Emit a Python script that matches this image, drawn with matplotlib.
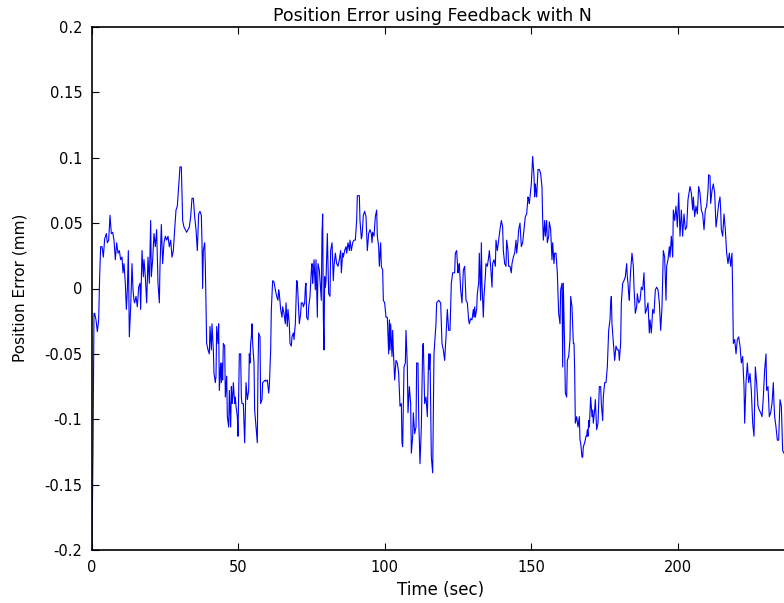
import matplotlib
matplotlib.use("Agg")
import matplotlib.pyplot as plt

plt.rcParams['font.family'] = ['DejaVu Sans']
plt.rcParams['axes.unicode_minus'] = False

# time (sec)
time_sec = [
    0.0, 0.34, 0.68, 0.91, 1.37, 1.82, 2.28, 2.62, 2.96, 3.42, 3.87, 4.33, 4.90, 5.24, 5.69, 6.15,
    6.60, 7.06, 7.51, 7.97, 8.42, 8.88, 9.34, 9.79, 10.25, 10.59, 10.93, 11.38, 11.73, 12.07, 12.41,
    12.75, 13.21, 13.66, 14.00, 14.34, 14.57, 15.03, 15.48, 15.94, 16.39, 16.62, 17.08, 17.53, 17.76,
    18.21, 18.67, 19.13, 19.58, 20.04, 20.26, 20.72, 21.17, 21.63, 22.08, 22.54, 23.00, 23.22, 23.68,
    24.13, 24.59, 25.04, 25.50, 25.96, 26.41, 26.87, 27.32, 27.78, 28.23, 28.69, 29.14, 29.60, 30.05,
    30.51, 30.96, 31.42, 31.88, 32.33, 32.79, 33.24, 33.70, 34.15, 34.61, 35.06, 35.52, 35.97, 36.43,
    36.88, 37.34, 37.57, 37.79, 38.02, 38.48, 38.71, 39.16,
    39.62, 40.07, 40.30, 40.76, 40.98, 41.44, 41.67, 42.12, 42.35, 42.58, 43.03, 43.26, 43.49, 43.94,
    44.17, 44.40, 44.63, 44.85, 45.31, 45.54, 45.99, 46.22, 46.68, 46.90, 47.36, 47.59, 47.81, 48.04,
    48.27, 48.72, 48.95, 49.18, 49.64, 49.86, 50.32, 50.77, 51.00, 51.23, 51.68, 52.14, 52.60, 53.05,
    53.51, 53.73, 53.96, 54.19, 54.42, 54.64, 54.87, 55.33, 55.55, 56.01, 56.46, 56.69, 56.92, 57.38,
    57.60, 58.06, 58.29, 58.74, 59.20, 59.42, 59.88, 60.34, 60.56, 61.02, 61.25, 61.47, 61.70, 62.16,
    62.61, 63.07, 63.52, 63.75, 63.98, 64.43, 64.89, 65.12, 65.57, 66.03, 66.26, 66.71, 66.94, 67.39,
    67.62, 68.08, 68.30, 68.76, 68.99, 69.44, 69.90, 70.13, 70.58, 70.81, 71.26, 71.49, 71.95, 72.18,
    72.63, 72.86, 73.09, 73.31, 73.77, 74.00, 74.45, 74.91, 75.14, 75.36, 75.59, 75.82, 76.27, 76.50,
    76.96, 77.18, 77.64,
    77.87, 78.32, 78.55, 78.78, 79.01, 79.24, 79.46, 79.69, 79.92, 80.37, 80.83, 81.28, 81.51, 81.97,
    82.42, 82.65, 83.11, 83.56, 84.02, 84.47, 84.93, 85.16, 85.61, 85.84, 86.29, 86.75, 86.98, 87.43,
    87.89, 88.11, 88.57, 89.03, 89.48, 89.94, 90.39, 90.62, 91.30, 91.53, 91.99, 92.21, 92.67, 93.12,
    93.58, 94.03, 94.49, 94.94, 95.40, 95.63, 95.86, 96.31, 96.77, 97.22, 97.45, 97.91, 98.13, 98.59,
    98.82, 99.27, 99.50, 99.95, 100.41, 100.86, 101.32, 101.55, 101.78, 102.00, 102.46, 102.69, 102.91,
    103.37, 103.82, 104.28, 104.74, 105.19, 105.65, 105.87, 106.10, 106.56, 107.01, 107.24, 107.70,
    107.92, 108.38, 108.83, 109.06, 109.52, 109.74, 110.20, 110.66, 110.88, 111.34, 111.57, 112.02,
    112.48, 112.93, 113.16, 113.61, 114.07, 114.53, 114.98, 115.21,
    115.44, 115.89, 116.35, 116.57, 116.80, 117.03, 117.48, 117.71, 118.40, 119.08, 119.53, 119.99,
    120.44, 120.90, 121.35, 121.81, 122.27, 122.72, 123.18, 123.86, 124.09, 124.54, 125.00, 125.23,
    125.45, 125.91, 126.36, 126.82, 127.27, 127.73, 128.19, 128.64, 128.87, 129.32, 129.78, 130.23,
    130.46, 130.69, 130.92, 131.37, 131.60, 132.06, 132.28, 132.74, 132.97, 133.19, 133.65, 133.88,
    134.33, 134.56, 135.02, 135.47, 135.70, 136.15, 136.61, 136.84, 137.29, 137.75, 137.98, 138.43,
    138.89, 139.34, 139.80, 140.25, 140.48, 140.94, 141.39, 141.62, 142.07, 142.30, 142.76, 143.21,
    143.44, 143.90, 144.35, 144.81, 145.03, 145.49, 145.72, 146.17, 146.63, 147.08, 147.54, 147.99,
    148.45, 148.90, 149.13, 149.36, 149.59, 150.04, 150.50, 150.95, 151.18, 151.41, 151.86, 152.32,
    152.77,
    153.23, 153.69, 153.92, 154.14, 154.60, 154.83, 155.28, 155.51, 155.97, 156.19, 156.65, 157.10,
    157.33, 157.79, 158.01, 158.47, 158.92, 159.38, 159.84, 160.06, 160.52, 160.75, 160.97, 161.43,
    161.66, 162.11, 162.34, 162.80, 163.25, 163.48, 163.93, 164.39, 164.62, 164.84, 165.07, 165.53,
    165.98, 166.44, 166.67, 166.89, 167.35, 167.58, 167.80, 168.26, 168.72, 168.94, 169.17, 169.40,
    169.63, 169.85, 170.31, 170.76, 170.99, 171.22, 171.67, 171.90, 172.36, 172.81, 173.27, 173.72,
    173.95, 174.41, 174.63, 175.09, 175.55, 176.00, 176.46, 176.91, 177.14, 177.37, 177.59, 177.82,
    178.28, 178.51, 178.96, 179.42, 179.87, 180.10, 180.55, 180.78, 181.24, 181.69, 182.15, 182.60,
    182.83, 183.06, 183.29, 183.51, 183.74, 183.97, 184.42, 184.88, 185.11, 185.56, 186.02, 186.25,
    186.70, 187.16, 187.61, 188.07, 188.52, 188.98, 189.43, 189.89, 190.34,
    190.58, 191.03, 191.49, 191.94, 192.40, 192.85, 193.31, 193.76, 194.22, 194.67, 195.13, 195.58,
    196.04, 196.27, 196.72, 197.18, 197.41, 197.86, 198.32, 198.54, 199.00, 199.45, 199.91, 200.37,
    200.82, 201.28, 201.73, 202.19, 202.64, 203.10, 203.55, 204.24, 204.69, 205.15, 205.37, 205.83,
    206.28, 206.74, 207.20, 207.65, 208.11, 208.56, 209.02, 209.47, 209.93, 210.38, 210.61, 211.07,
    211.29, 211.75, 212.20, 212.66, 213.12, 213.57, 214.03, 214.48, 214.71, 214.94, 215.39, 215.85,
    216.30, 216.76, 217.21, 217.67, 218.12, 218.58, 218.81, 219.04, 219.49, 219.95, 220.40, 220.86,
    221.31, 221.77, 222.22, 222.68, 222.91, 223.36, 223.82, 224.27, 224.73, 225.18, 225.64, 226.09,
    226.55, 227.00, 227.46, 227.91, 228.37, 228.83, 229.28, 229.74, 230.19, 230.42, 230.88, 231.33,
    231.79, 232.24, 232.70, 232.92, 233.15, 233.61, 234.06, 234.52, 234.97, 235.43, 235.88, 236.34,
    237.0, 238.0,
]

# position error (mm)
pos_error = [
    -0.200, -0.124, -0.019, -0.019, -0.024, -0.033, -0.024, 0.010, 0.032, 0.032, 0.024, 0.038, 0.042,
    0.035, 0.037, 0.056, 0.042, 0.043, 0.037, 0.022, 0.035, 0.027, 0.029, 0.022, 0.024, 0.012, 0.019,
    0.004, -0.016, -0.001, 0.029, -0.037, -0.014, 0.019, -0.001, -0.009, -0.011, -0.006, -0.014, 0.001,
    0.004, -0.016, 0.029, 0.009, 0.022, 0.009, -0.011, 0.024, 0.004, 0.052, 0.009, 0.022, 0.042, 0.032,
    0.045, 0.004, -0.011, 0.017, 0.049, 0.019, 0.035, 0.040, 0.037, 0.040, 0.032, 0.037, 0.024, 0.029,
    0.045, 0.060, 0.063, 0.078, 0.093, 0.093, 0.052, 0.047, 0.045, 0.043, 0.045, 0.047, 0.055, 0.069,
    0.069, 0.055, 0.045, 0.029, 0.057, 0.059, 0.056, 0.035, 0.000, 0.029, 0.035, 0.017, -0.042,
    -0.047, -0.050, -0.029, -0.047, -0.027, -0.047, -0.065, -0.072, -0.067, -0.029, -0.042, -0.027,
    -0.078, -0.057, -0.072, -0.057, -0.070, -0.042, -0.044, -0.083, -0.067, -0.098, -0.106, -0.078,
    -0.106, -0.075, -0.088, -0.083, -0.072, -0.088, -0.083, -0.090, -0.098, -0.113, -0.050, -0.050,
    -0.083, -0.088, -0.088, -0.118, -0.072, -0.085, -0.078, -0.050, -0.057, -0.042, -0.037, -0.027,
    -0.042, -0.057, -0.093, -0.106, -0.118, -0.062, -0.034, -0.037, -0.088, -0.085, -0.072, -0.071,
    -0.070, -0.071, -0.070, -0.080, -0.075, -0.047, -0.016, -0.006, 0.006, 0.005, -0.001, -0.006,
    -0.009, -0.001, -0.004, -0.016, -0.022, -0.014, -0.019, -0.027, -0.011, -0.029, -0.016, -0.027,
    -0.042, -0.044, -0.037, -0.034, -0.039, -0.027, 0.006, 0.005, -0.016, -0.027, -0.019, -0.011,
    -0.011, -0.014, -0.011, 0.001, 0.004, -0.022, -0.024, -0.014, -0.006, 0.014, 0.019, 0.004, 0.012,
    0.022, -0.001, 0.022, -0.022, 0.019, 0.014,
    0.006, -0.009, 0.042, 0.057, -0.022, -0.047, 0.009, 0.001, 0.006, 0.042, -0.004, -0.006, 0.029,
    0.035, 0.006, 0.017, 0.027, 0.019, 0.017, 0.022, 0.029, 0.012, 0.027, 0.024, 0.029, 0.032, 0.027,
    0.035, 0.029, 0.037, 0.029, 0.035, 0.037, 0.037, 0.052, 0.071, 0.071, 0.052, 0.038, 0.040, 0.056,
    0.059, 0.055, 0.029, 0.042, 0.045, 0.042, 0.035, 0.043, 0.040, 0.055, 0.060, 0.040, 0.032, 0.017,
    0.035, 0.017, 0.014, -0.009, -0.011, -0.022, -0.022, -0.050, -0.024, -0.047, -0.027, -0.052,
    -0.032, -0.047, -0.070, -0.055, -0.057, -0.065, -0.090, -0.088, -0.118, -0.121, -0.060, -0.057,
    -0.032, -0.060, -0.095, -0.075, -0.088, -0.126, -0.113, -0.095, -0.111, -0.106, -0.057, -0.057,
    -0.098, -0.134, -0.106, -0.044, -0.042, -0.088, -0.083, -0.098, -0.050, -0.062,
    -0.050, -0.129, -0.141, -0.098, -0.050, -0.042, -0.027, -0.011, -0.009, -0.011, -0.042, -0.047,
    -0.055, -0.037, -0.016, -0.032, -0.032, 0.004, 0.012, 0.012, 0.027, 0.029, 0.012, 0.017, 0.019,
    -0.001, -0.011, 0.014, 0.017, -0.009, -0.011, -0.024, -0.027, -0.023, -0.024, -0.016, -0.022,
    -0.014, -0.022, -0.016, -0.004, 0.004, 0.027, -0.009, 0.035, 0.004, -0.022, -0.006, 0.009, 0.019,
    0.017, 0.024, 0.029, 0.017, 0.001, 0.019, 0.022, 0.017, 0.037, 0.029, 0.037, 0.045, 0.052, 0.047,
    0.029, 0.019, 0.017, 0.037, 0.029, 0.017, 0.017, 0.012, 0.019, 0.024, 0.027, 0.037, 0.027, 0.037,
    0.045, 0.050, 0.032, 0.035, 0.045, 0.055, 0.057, 0.070, 0.068, 0.065, 0.070, 0.080, 0.101, 0.086,
    0.070, 0.080, 0.070, 0.091, 0.091,
    0.088, 0.077, 0.052, 0.037, 0.052, 0.040, 0.052, 0.035, 0.040, 0.051, 0.045, 0.022, 0.035, 0.019,
    0.027, 0.027, 0.012, -0.019, -0.027, -0.001, 0.004, -0.060, 0.004, -0.047, -0.080, -0.083, -0.055,
    -0.052, -0.039, -0.006, -0.014, -0.042, -0.042, -0.062, -0.103, -0.098, -0.106, -0.098, -0.116,
    -0.118, -0.129, -0.129, -0.121, -0.118, -0.113, -0.113, -0.108, -0.113, -0.101, -0.106, -0.083,
    -0.098, -0.093, -0.103, -0.093, -0.085, -0.108, -0.103, -0.075, -0.075, -0.088, -0.101, -0.083,
    -0.072, -0.072, -0.060, -0.032, -0.024, -0.011, -0.006, -0.027, -0.034, -0.047, -0.055, -0.044,
    -0.047, -0.047, -0.055, -0.042, -0.011, 0.004, 0.006, 0.009, 0.019, 0.009, 0.004, -0.004, -0.009,
    0.004, 0.014, 0.027, 0.017, 0.001, -0.019, -0.014, -0.004, -0.011, -0.009, 0.001, -0.001, 0.012,
    -0.019, -0.016, -0.011, -0.034,
    -0.024, -0.034, -0.016, -0.019, -0.001, 0.001, -0.001, -0.011, -0.032, -0.014, 0.029, 0.024,
    -0.009, 0.017, 0.022, 0.032, 0.024, 0.040, 0.024, 0.060, 0.052, 0.063, 0.047, 0.073, 0.040, 0.060,
    0.040, 0.057, 0.045, 0.047, 0.068, 0.078, 0.073, 0.060, 0.070, 0.055, 0.063, 0.057, 0.078, 0.073,
    0.060, 0.057, 0.045, 0.060, 0.063, 0.075, 0.087, 0.086, 0.065, 0.075, 0.080, 0.073, 0.047, 0.055,
    0.065, 0.070, 0.060, 0.045, 0.040, 0.057, 0.045, 0.027, 0.019, 0.027, 0.017, 0.027, -0.004,
    -0.042, -0.039, -0.050, -0.039, -0.037, -0.044, -0.057, -0.052, -0.075, -0.103, -0.072, -0.057,
    -0.072, -0.065, -0.078, -0.103, -0.113, -0.060, -0.072, -0.090, -0.093, -0.095, -0.098, -0.083,
    -0.062, -0.050, -0.078, -0.075, -0.098, -0.095, -0.088, -0.072, -0.088, -0.098, -0.106, -0.116,
    -0.116, -0.085, -0.090, -0.124, -0.126, -0.125, -0.120,
]

y_ticks = [-0.2, -0.15, -0.1, -0.05, 0, 0.05, 0.1, 0.15, 0.2]
y_tick_labels = ['-0.2', '-0.15', '-0.1', '-0.05', '0', '0.05', '0.1', '0.15', '0.2']
x_ticks = [0, 50, 100, 150, 200]

W, H = 784, 603
fig = plt.figure(figsize=(W / 100, H / 100), dpi=100)
# the axes run on past the right edge of the picture, as in the reference
ax = fig.add_axes([92 / W, 1 - 550 / H, 732 / W, 523 / H])

ax.plot(time_sec, pos_error, color='#0000ff', linewidth=0.8)

ax.set_xlim(0, 250)
ax.set_ylim(-0.2, 0.2)
ax.set_xticks(x_ticks)
ax.set_xticklabels([str(t) for t in x_ticks])
ax.set_yticks(y_ticks)
ax.set_yticklabels(y_tick_labels)
ax.tick_params(direction='in', length=5, width=0.8, labelsize=10.5,
               top=True, right=True, pad=7)
for s in ax.spines.values():
    s.set_linewidth(1.2)

ax.set_title('Position Error using Feedback with N', fontsize=12.5,
             x=(432 - 92) / 732, pad=4)
ax.set_xlabel('Time (sec)', fontsize=12)
ax.xaxis.set_label_coords(441 / W, 1 - 581 / H, transform=fig.transFigure)
ax.set_ylabel('Position Error (mm)', fontsize=11)
ax.yaxis.set_label_coords(28 / W, 1 - 288 / H, transform=fig.transFigure)

fig.savefig('out.png', dpi=100)
